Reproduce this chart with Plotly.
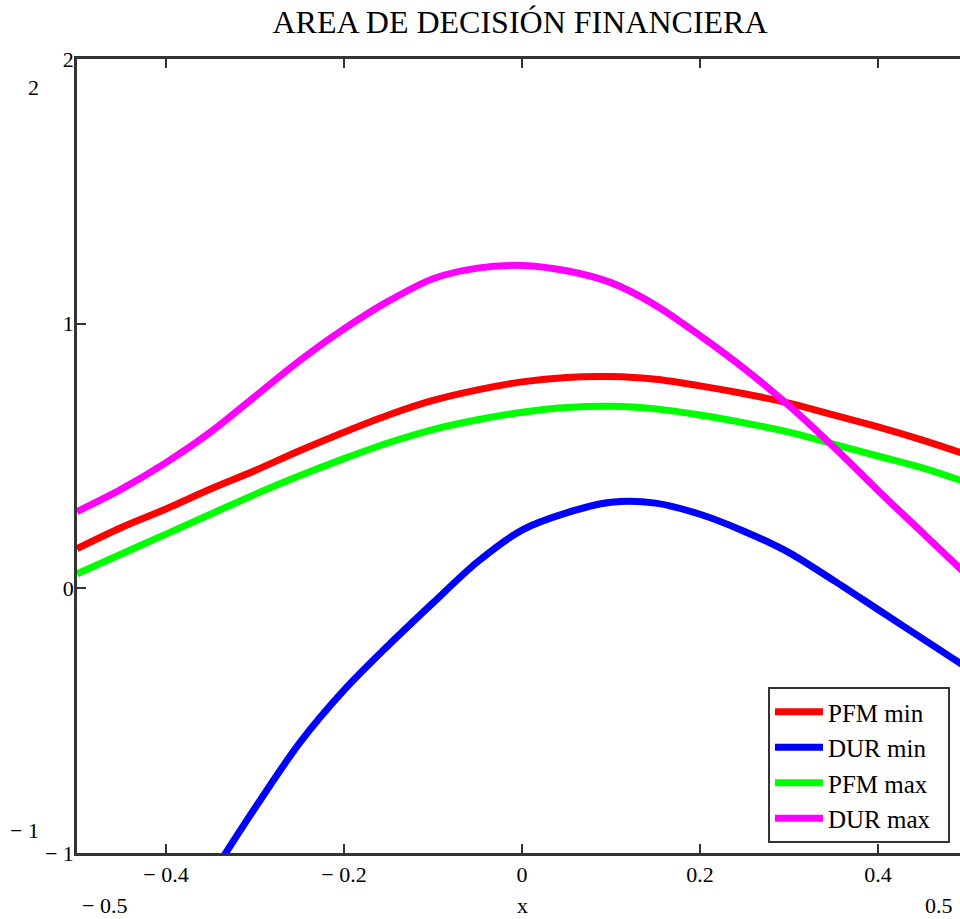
import plotly.graph_objects as go

x_vals = [-0.50, -0.45, -0.40, -0.35, -0.30, -0.25, -0.20, -0.15, -0.10, -0.05,
          0.00, 0.05, 0.10, 0.15, 0.20, 0.25, 0.30, 0.35, 0.40, 0.45, 0.50]

pfm_min = [0.15, 0.23, 0.30, 0.375, 0.445, 0.52, 0.59, 0.655, 0.71, 0.75,
           0.78, 0.797, 0.80, 0.79, 0.765, 0.735, 0.70, 0.655, 0.61, 0.56, 0.505]

pfm_max = [0.055, 0.13, 0.205, 0.28, 0.355, 0.425, 0.49, 0.55, 0.60, 0.637,
           0.665, 0.683, 0.688, 0.678, 0.655, 0.625, 0.59, 0.545, 0.50, 0.455, 0.40]

dur_max = [0.29, 0.375, 0.475, 0.59, 0.725, 0.86, 0.98, 1.085, 1.17, 1.21,
           1.22, 1.20, 1.155, 1.07, 0.955, 0.83, 0.69, 0.535, 0.37, 0.21, 0.05]

x_dur_min = [-0.35, -0.30, -0.25, -0.20, -0.15, -0.10, -0.05, 0.00, 0.05, 0.10,
             0.15, 0.20, 0.25, 0.30, 0.35, 0.40, 0.45, 0.50]
dur_min = [-1.09, -0.83, -0.585, -0.385, -0.215, -0.055, 0.10, 0.22, 0.285, 0.325,
           0.322, 0.28, 0.215, 0.135, 0.03, -0.08, -0.19, -0.30]

series_names = ["PFM min", "DUR min", "PFM max", "DUR max"]
series_colors = ["#ff0000", "#0000ff", "#00ff00", "#ff00ff"]

x_ticks = [-0.4, -0.2, 0.0, 0.2, 0.4]
x_tick_text = ["\u2212 0.4", "\u2212 0.2", "0", "0.2", "0.4"]
y_ticks = [-1, 0, 1, 2]
y_tick_text = ["\u2212 1", "0", "1", "2"]

FONT = "Liberation Serif"
AXIS = "#333333"

W, H = 960, 919
L, T, B = 77, 59, 66
PW, PH = W - L, H - T - B


def px_x(px):
    return (px - L) / PW


def px_y(py):
    return (H - B - py) / PH


fig = go.Figure()
series_x = [x_vals, x_dur_min, x_vals, x_vals]
series_y = [pfm_min, dur_min, pfm_max, dur_max]
for name, xs, ys, col in zip(series_names, series_x, series_y, series_colors):
    fig.add_trace(go.Scatter(x=xs, y=ys, mode="lines", name=name + "\u00a0\u00a0",
                             line=dict(color=col, width=7, shape="spline", smoothing=0.9)))

fig.update_layout(
    width=W, height=H,
    margin=dict(l=L, r=0, t=T, b=B, pad=0),
    paper_bgcolor="white", plot_bgcolor="white",
    font=dict(family=FONT, color="#000000", size=20),
    title=dict(text="AREA DE DECISIÓN FINANCIERA", x=px_x(520), xref="paper",
               y=1 - 22 / H, yref="container", yanchor="middle", xanchor="center",
               font=dict(family=FONT, size=32, color="#000000")),
    showlegend=True,
    legend=dict(x=px_x(768), y=px_y(687), xanchor="left", yanchor="top",
                bgcolor="white", bordercolor=AXIS, borderwidth=2,
                font=dict(family=FONT, size=25, color="#000000"),
                itemwidth=48, tracegroupgap=0),
)
fig.update_xaxes(range=[-0.5, -0.5 + 883 / 890], tickvals=x_ticks, ticktext=x_tick_text,
                 ticks="inside", ticklen=9, tickwidth=2, tickcolor=AXIS,
                 showline=True, linecolor=AXIS, linewidth=2.5, mirror="ticks",
                 showgrid=False, zeroline=False,
                 tickfont=dict(family=FONT, size=22, color="#000000"))
fig.update_yaxes(range=[-1, 2], tickvals=y_ticks, ticktext=y_tick_text,
                 ticks="inside", ticklen=9, tickwidth=2, tickcolor=AXIS,
                 showline=True, linecolor=AXIS, linewidth=2.5, mirror=False,
                 showgrid=False, zeroline=False, ticklabelstandoff=-4,
                 tickfont=dict(family=FONT, size=22, color="#000000"))

label_font = dict(family=FONT, size=22, color="#000000")
fig.add_annotation(text="2", xref="paper", yref="paper", x=px_x(41), y=px_y(87),
                   xanchor="right", yanchor="middle", showarrow=False, font=label_font)
fig.add_annotation(text="\u2212 1", xref="paper", yref="paper", x=px_x(41), y=px_y(830),
                   xanchor="right", yanchor="middle", showarrow=False, font=label_font)
fig.add_annotation(text="\u2212 0.5", xref="paper", yref="paper", x=px_x(80), y=px_y(905),
                   xanchor="left", yanchor="middle", showarrow=False, font=label_font)
fig.add_annotation(text="x", xref="x", yref="paper", x=0, y=px_y(905),
                   xanchor="center", yanchor="middle", showarrow=False, font=label_font)
fig.add_annotation(text="0.5", xref="paper", yref="paper", x=px_x(955), y=px_y(905),
                   xanchor="right", yanchor="middle", showarrow=False, font=label_font)

fig.write_html("out.html",
               config={"displayModeBar": False},
               post_script="document.body.style.margin='0px';"
                           "document.documentElement.style.overflow='hidden';")
